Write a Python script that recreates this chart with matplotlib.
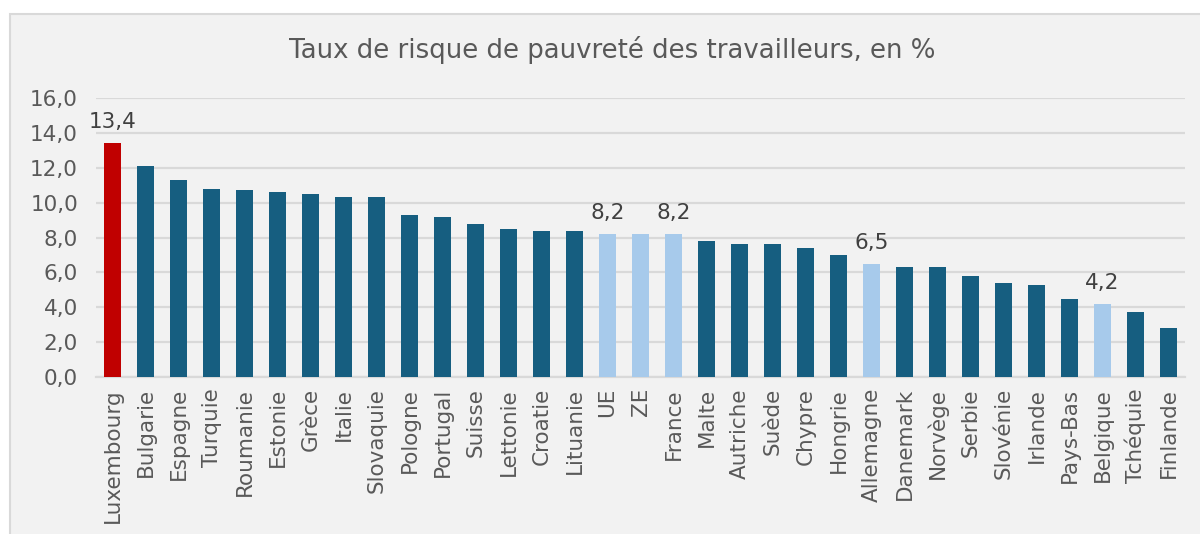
import matplotlib
matplotlib.use("Agg")
import matplotlib.pyplot as plt
from matplotlib.patches import Rectangle

title = "Taux de risque de pauvreté des travailleurs, en %"
countries = ["Luxembourg", "Bulgarie", "Espagne", "Turquie", "Roumanie", "Estonie",
             "Grèce", "Italie", "Slovaquie", "Pologne", "Portugal", "Suisse",
             "Lettonie", "Croatie", "Lituanie", "UE", "ZE", "France", "Malte",
             "Autriche", "Suède", "Chypre", "Hongrie", "Allemagne", "Danemark",
             "Norvège", "Serbie", "Slovénie", "Irlande", "Pays-Bas", "Belgique",
             "Tchéquie", "Finlande"]
values = [13.4, 12.1, 11.3, 10.8, 10.7, 10.6, 10.5, 10.3, 10.3, 9.3, 9.2, 8.8,
          8.5, 8.4, 8.4, 8.2, 8.2, 8.2, 7.8, 7.6, 7.6, 7.4, 7.0, 6.5, 6.3,
          6.3, 5.8, 5.4, 5.3, 4.5, 4.2, 3.7, 2.8]
highlight_red = ["Luxembourg"]
highlight_light = ["UE", "ZE", "France", "Allemagne", "Belgique"]
labelled = ["Luxembourg", "UE", "France", "Allemagne", "Belgique"]
yticks = [0, 2, 4, 6, 8, 10, 12, 14, 16]

DARK = "#165E80"
LIGHT = "#A7CAEB"
RED = "#C00000"
BG = "#F2F2F2"
GRID = "#D9D9D9"
FS = 15.5

W, H = 1200, 534
fig = plt.figure(figsize=(W / 100, H / 100), dpi=100, facecolor="white")

# chart area box
fig.patches.append(Rectangle((10 / W, -0.05), 1.1, (H - 14) / H + 0.05,
                             transform=fig.transFigure, facecolor=BG,
                             edgecolor=GRID, linewidth=1.5, zorder=-10))

ax = fig.add_axes([96 / W, (H - 377) / H, (1185 - 96) / W, (377 - 98) / H])
ax.set_facecolor(BG)
ax.patch.set_alpha(0)

colors = []
for c in countries:
    if c in highlight_red:
        colors.append(RED)
    elif c in highlight_light:
        colors.append(LIGHT)
    else:
        colors.append(DARK)

x = list(range(len(countries)))
ax.bar(x, values, width=0.52, color=colors, zorder=3)
ax.set_xlim(-0.5, len(countries) - 0.5)
ax.set_ylim(0, 16)
ax.set_yticks(yticks)
ax.set_yticklabels([f"{v:.1f}".replace(".", ",") for v in yticks],
                   fontsize=FS, color="#595959")
ax.set_xticks(x)
ax.set_xticklabels(countries, rotation=90, fontsize=FS, color="#595959")
ax.tick_params(axis="both", length=0)
ax.tick_params(axis="y", pad=13)
ax.tick_params(axis="x", pad=8)
ax.grid(axis="y", color=GRID, linewidth=1.6, zorder=0)
for s in ["top", "right", "left"]:
    ax.spines[s].set_visible(False)
ax.spines["bottom"].set_color(GRID)
ax.spines["bottom"].set_linewidth(1.6)

for i, (c, v) in enumerate(zip(countries, values)):
    if c in labelled:
        ax.annotate(f"{v:.1f}".replace(".", ","), (i, v), xytext=(0, 8),
                    textcoords="offset points", ha="center", va="bottom",
                    fontsize=FS, color="#404040", zorder=4)

fig.text(612 / W, (H - 50) / H, title, ha="center", va="center",
         fontsize=18.7, color="#595959")

fig.savefig("out.png", dpi=100, facecolor="white")
